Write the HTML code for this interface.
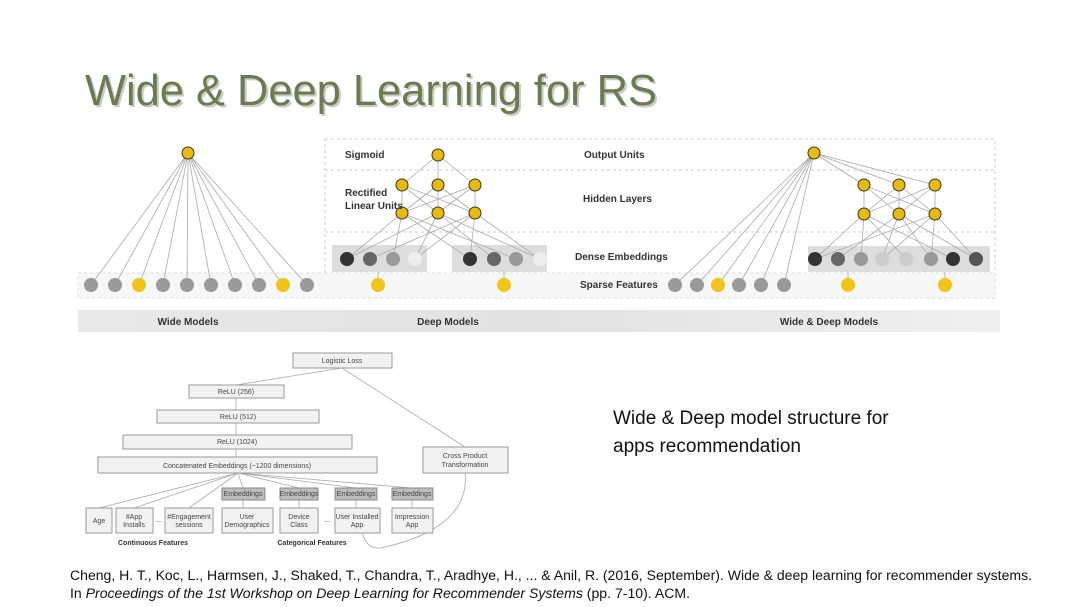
<!DOCTYPE html>
<html><head><meta charset="utf-8"><style>
body{margin:0;background:#fff;}
svg{display:block;font-family:"Liberation Sans",sans-serif;}
.nl{font-family:"Liberation Sans",sans-serif;font-size:10px;fill:#333;font-weight:bold;}
.bx{fill:#f2f2f2;stroke:#999;stroke-width:1;}
.gb{fill:#bdbdbd;stroke:#888;stroke-width:1;}
.bt{font-size:7px;fill:#444;text-anchor:middle;}
.ln{stroke:#aaa;stroke-width:0.8;fill:none;}
.y{fill:#f0c419;}
.g{fill:#999;}
</style></head><body>
<svg width="1080" height="607" viewBox="0 0 1080 607" xmlns="http://www.w3.org/2000/svg">
<defs>
<linearGradient id="band" x1="0" x2="1"><stop offset="0" stop-color="#e8e8e8"/><stop offset="0.5" stop-color="#e2e2e2"/><stop offset="1" stop-color="#f0f0f0"/></linearGradient>
</defs>
<!-- title -->
<text x="87" y="107" font-size="44" fill="#c8ccc0" textLength="572" lengthAdjust="spacingAndGlyphs">Wide &amp; Deep Learning for RS</text>
<text x="85" y="105" font-size="44" fill="#6b7a52" textLength="572" lengthAdjust="spacingAndGlyphs">Wide &amp; Deep Learning for RS</text>

<!-- deep dashed frames -->
<rect x="325" y="139" width="670" height="159" fill="none" stroke="#ccc" stroke-dasharray="3,3"/>
<line x1="325" y1="170" x2="995" y2="170" stroke="#ccc" stroke-dasharray="3,3"/>
<line x1="325" y1="232" x2="995" y2="232" stroke="#ccc" stroke-dasharray="3,3"/>
<rect x="78" y="273" width="917" height="25" fill="#f7f7f7" stroke="#ddd" stroke-dasharray="3,3"/>
<!-- embedding bands -->
<rect x="332" y="245" width="95" height="27" fill="#ddd"/>
<rect x="452" y="245" width="95" height="27" fill="#ddd"/>
<rect x="808" y="246" width="182" height="26" fill="#ddd"/>

<!-- wide lines -->
<g class="ln">
<path d="M188 153L91 285M188 153L115 285M188 153L139 285M188 153L163 285M188 153L187 285M188 153L211 285M188 153L235 285M188 153L259 285M188 153L283 285M188 153L307 285"/>
<!-- deep -->
<path d="M438 155L402 185M438 155L438 185M438 155L475 185M402 185L402 213M402 185L438 213M402 185L475 213M438 185L402 213M438 185L438 213M438 185L475 213M475 185L402 213M475 185L438 213M475 185L475 213"/>
<path d="M402 213L347 259M402 213L393 259M402 213L470 259M402 213L516 259M438 213L347 259M438 213L415 259M438 213L494 259M438 213L540 259M475 213L370 259M475 213L415 259M475 213L470 259M475 213L540 259M378 285L378 272M504 285L504 272"/>
<!-- wide&deep -->
<path d="M814 153L864 185M814 153L899 185M814 153L935 185M814 153L675 285M814 153L697 285M814 153L718 285M814 153L739 285M814 153L761 285M814 153L784 285"/>
<path d="M864 185L864 214M864 185L899 214M864 185L935 214M899 185L864 214M899 185L899 214M899 185L935 214M935 185L864 214M935 185L899 214M935 185L935 214"/>
<path d="M864 214L815 259M864 214L861 259M864 214L906 259M864 214L953 259M899 214L838 259M899 214L882 259M899 214L931 259M899 214L976 259M935 214L815 259M935 214L882 259M935 214L931 259M935 214L976 259M848 285L848 272M945 285L945 272"/>
</g>

<!-- wide nodes -->
<g>
<circle cx="91" cy="285" r="7" class="g"/><circle cx="115" cy="285" r="7" class="g"/><circle cx="139" cy="285" r="7" class="y"/><circle cx="163" cy="285" r="7" class="g"/><circle cx="187" cy="285" r="7" class="g"/><circle cx="211" cy="285" r="7" class="g"/><circle cx="235" cy="285" r="7" class="g"/><circle cx="259" cy="285" r="7" class="g"/><circle cx="283" cy="285" r="7" class="y"/><circle cx="307" cy="285" r="7" class="g"/>
<circle cx="378" cy="285" r="7" class="y"/><circle cx="504" cy="285" r="7" class="y"/>
<circle cx="675" cy="285" r="7" class="g"/><circle cx="697" cy="285" r="7" class="g"/><circle cx="718" cy="285" r="7" class="y"/><circle cx="739" cy="285" r="7" class="g"/><circle cx="761" cy="285" r="7" class="g"/><circle cx="784" cy="285" r="7" class="g"/>
<circle cx="848" cy="285" r="7" class="y"/><circle cx="945" cy="285" r="7" class="y"/>
<!-- dense -->
<circle cx="347" cy="259" r="7" fill="#333"/><circle cx="370" cy="259" r="7" fill="#666"/><circle cx="393" cy="259" r="7" fill="#999"/><circle cx="415" cy="259" r="7" fill="#eee"/>
<circle cx="470" cy="259" r="7" fill="#333"/><circle cx="494" cy="259" r="7" fill="#666"/><circle cx="516" cy="259" r="7" fill="#999"/><circle cx="540" cy="259" r="7" fill="#eee"/>
<circle cx="815" cy="259" r="7" fill="#333"/><circle cx="838" cy="259" r="7" fill="#666"/><circle cx="861" cy="259" r="7" fill="#999"/><circle cx="882" cy="259" r="7" fill="#ccc"/>
<circle cx="906" cy="259" r="7" fill="#ccc"/><circle cx="931" cy="259" r="7" fill="#999"/><circle cx="953" cy="259" r="7" fill="#333"/><circle cx="976" cy="259" r="7" fill="#555"/>
</g>
<!-- activation nodes -->
<g fill="#e8b90f" stroke="#3a3a1a" stroke-width="1">
<circle cx="188" cy="153" r="6"/><circle cx="438" cy="155" r="6"/>
<circle cx="402" cy="185" r="6"/><circle cx="438" cy="185" r="6"/><circle cx="475" cy="185" r="6"/>
<circle cx="402" cy="213" r="6"/><circle cx="438" cy="213" r="6"/><circle cx="475" cy="213" r="6"/>
<circle cx="814" cy="153" r="6"/>
<circle cx="864" cy="185" r="6"/><circle cx="899" cy="185" r="6"/><circle cx="935" cy="185" r="6"/>
<circle cx="864" cy="214" r="6"/><circle cx="899" cy="214" r="6"/><circle cx="935" cy="214" r="6"/>
</g>

<!-- labels -->
<text class="nl" x="345" y="158" font-size="9">Sigmoid</text>
<text class="nl" x="345" y="196" font-size="9">Rectified</text>
<text class="nl" x="345" y="209" font-size="9">Linear Units</text>
<text class="nl" x="584" y="158">Output Units</text>
<text class="nl" x="583" y="202">Hidden Layers</text>
<text class="nl" x="575" y="260">Dense Embeddings</text>
<text class="nl" x="580" y="288">Sparse Features</text>

<rect x="78" y="310" width="922" height="22" fill="url(#band)"/>
<text class="nl" x="188" y="325" text-anchor="middle" font-size="11">Wide Models</text>
<text class="nl" x="448" y="325" text-anchor="middle" font-size="11">Deep Models</text>
<text class="nl" x="829" y="325" text-anchor="middle" font-size="11">Wide &amp; Deep Models</text>

<!-- lower diagram -->
<g class="ln" stroke="#bbb">
<path d="M342 368L236 385M342 368L465 447M236 398L236 410M236 423L236 435M236 449L236 457"/>
<path d="M238 473L99 508M238 473L134 508M238 473L189 508M238 473L243 488M238 473L299 488M238 473L356 488M238 473L412 488"/>
<path d="M243 500L243 508M299 500L299 508M356 500L356 508M412 500L412 508"/>
<path d="M465 473C470 520 420 540 380 548C360 550 360 520 360 510"/>
</g>
<rect class="bx" x="293" y="353" width="99" height="15"/><text class="bt" x="342" y="363">Logistic Loss</text>
<rect class="bx" x="189" y="385" width="95" height="13"/><text class="bt" x="236" y="394">ReLU (256)</text>
<rect class="bx" x="157" y="410" width="162" height="13"/><text class="bt" x="238" y="419">ReLU (512)</text>
<rect class="bx" x="123" y="435" width="229" height="14"/><text class="bt" x="237" y="444">ReLU (1024)</text>
<rect class="bx" x="98" y="457" width="279" height="16"/><text class="bt" x="237" y="468">Concatenated Embeddings (~1200 dimensions)</text>
<rect class="bx" x="423" y="447" width="85" height="26" fill="#fff"/><text class="bt" x="465" y="458">Cross Product</text><text class="bt" x="465" y="467">Transformation</text>
<rect class="gb" x="222" y="488" width="43" height="12"/><text class="bt" x="243" y="496" font-size="5">Embeddings</text>
<rect class="gb" x="280" y="488" width="38" height="12"/><text class="bt" x="299" y="496" font-size="5">Embeddings</text>
<rect class="gb" x="335" y="488" width="42" height="12"/><text class="bt" x="356" y="496" font-size="5">Embeddings</text>
<rect class="gb" x="392" y="488" width="41" height="12"/><text class="bt" x="412" y="496" font-size="5">Embeddings</text>
<rect class="bx" x="86" y="508" width="26" height="25" fill="#fafafa"/><text class="bt" x="99" y="523" font-size="6">Age</text>
<rect class="bx" x="116" y="508" width="37" height="25" fill="#fafafa"/><text class="bt" x="134" y="519" font-size="6">#App</text><text class="bt" x="134" y="527" font-size="6">Installs</text>
<text class="bt" x="159" y="522">...</text>
<rect class="bx" x="165" y="508" width="48" height="25" fill="#fafafa"/><text class="bt" x="189" y="519" font-size="6">#Engagement</text><text class="bt" x="189" y="527" font-size="6">sessions</text>
<rect class="bx" x="222" y="508" width="51" height="25" fill="#fafafa"/><text class="bt" x="247" y="519" font-size="6">User</text><text class="bt" x="247" y="527" font-size="6">Demographics</text>
<rect class="bx" x="280" y="508" width="38" height="25" fill="#fafafa"/><text class="bt" x="299" y="519" font-size="6">Device</text><text class="bt" x="299" y="527" font-size="6">Class</text>
<text class="bt" x="327" y="522">...</text>
<rect class="bx" x="335" y="508" width="45" height="25" fill="#fafafa"/><text class="bt" x="357" y="519" font-size="6">User Installed</text><text class="bt" x="357" y="527" font-size="6">App</text>
<rect class="bx" x="392" y="508" width="41" height="25" fill="#fafafa"/><text class="bt" x="412" y="519" font-size="6">Impression</text><text class="bt" x="412" y="527" font-size="6">App</text>
<text x="153" y="545" font-size="7" font-weight="bold" fill="#333" text-anchor="middle">Continuous Features</text>
<text x="312" y="545" font-size="7" font-weight="bold" fill="#333" text-anchor="middle">Categorical Features</text>

<!-- caption -->
<text x="613" y="424" font-size="19" fill="#111">Wide &amp; Deep model structure for</text>
<text x="613" y="452" font-size="19" fill="#111">apps recommendation</text>

<!-- citation -->
<text x="70" y="580" font-size="13.5" fill="#111" textLength="962" lengthAdjust="spacingAndGlyphs">Cheng, H. T., Koc, L., Harmsen, J., Shaked, T., Chandra, T., Aradhye, H., ... &amp; Anil, R. (2016, September). Wide &amp; deep learning for recommender systems.</text>
<text x="70" y="598" font-size="13.5" fill="#111" textLength="620" lengthAdjust="spacingAndGlyphs">In <tspan font-style="italic">Proceedings of the 1st Workshop on Deep Learning for Recommender Systems</tspan> (pp. 7-10). ACM.</text>
</svg>
</body></html>
